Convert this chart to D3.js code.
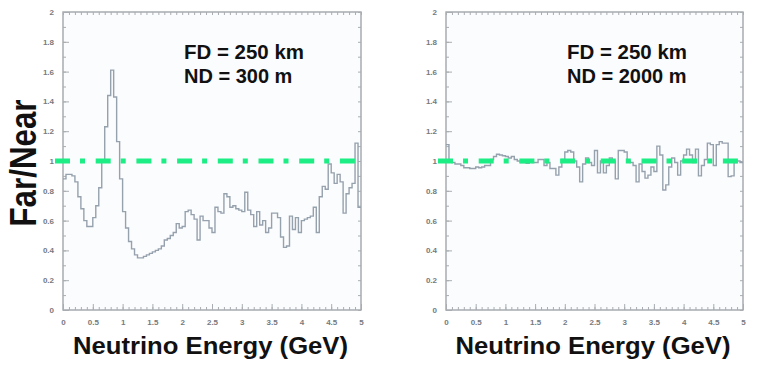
<!DOCTYPE html>
<html>
<head>
<meta charset="utf-8">
<script src="https://cdn.jsdelivr.net/npm/d3@7"></script>
<style>
  body { margin: 0; background: #fff; }
  svg { display: block; font-family: "Liberation Sans", Arial, Helvetica, sans-serif; }
  .frame { fill: #fbfcfd; stroke: #a2a6aa; stroke-width: 1.4; }
  .axis .domain { display: none; }
  .axis line { stroke: #a9adb1; stroke-width: 1; }
  .axis text { fill: #767a7e; font-size: 8px; font-weight: bold; font-family: "Liberation Sans", Arial, sans-serif; }
  .hist { fill: none; stroke: #96a1ae; stroke-width: 1.4; }
  .ref-line { stroke: #1ced84; stroke-width: 5; stroke-dasharray: 15 10 5 10.7; }
  .title { font-weight: bold; fill: #111; }
</style>
</head>
<body>
<svg id="chart" width="761" height="366"></svg>
<script>
// far/near ratio per 0.05 GeV bin, 0..5 GeV
const BIN_WIDTH = 0.05
const ratioND300 = [
  0.88, 0.91, 0.91, 0.90, 0.86, 0.76, 0.68, 0.60, 0.56, 0.56,
  0.62, 0.70, 0.82, 1.00, 1.23, 1.44, 1.61, 1.43, 1.13, 0.88,
  0.66, 0.55, 0.46, 0.41, 0.37, 0.35, 0.35, 0.36, 0.37, 0.38,
  0.39, 0.40, 0.41, 0.43, 0.47, 0.48, 0.50, 0.52, 0.58, 0.55,
  0.56, 0.66, 0.67, 0.64, 0.61, 0.47, 0.63, 0.60, 0.60, 0.55,
  0.52, 0.69, 0.66, 0.65, 0.78, 0.76, 0.69, 0.70, 0.68, 0.67,
  0.66, 0.79, 0.67, 0.64, 0.56, 0.66, 0.57, 0.60, 0.52, 0.55,
  0.65, 0.65, 0.62, 0.49, 0.42, 0.43, 0.63, 0.54, 0.62, 0.52,
  0.60, 0.61, 0.62, 0.63, 0.69, 0.52, 0.76, 0.83, 0.81, 0.98,
  0.92, 0.85, 0.91, 0.86, 0.65, 0.78, 0.82, 0.85, 1.12, 0.69
]
const ratioND2000 = [
  1.11, 1.00, 0.99, 0.98, 0.98, 0.97, 0.955, 0.955, 0.95, 0.95,
  0.96, 0.955, 0.96, 0.97, 0.97, 1.01, 1.03, 1.045, 1.04, 1.035,
  1.03, 1.02, 1.03, 1.01, 1.00, 0.99, 0.99, 0.985, 1.00, 0.99,
  0.99, 1.01, 1.01, 0.97, 0.99, 0.95, 0.95, 0.905, 0.96, 1.01,
  1.06, 1.07, 1.06, 1.00, 0.96, 0.86, 0.98, 1.02, 0.99, 0.97,
  1.07, 0.92, 1.00, 0.92, 0.97, 1.02, 1.00, 0.88, 1.07, 1.07,
  1.06, 1.00, 0.99, 0.97, 0.86, 0.98, 0.93, 0.885, 0.905, 0.96,
  0.93, 1.10, 1.04, 0.805, 0.84, 0.96, 1.02, 0.99, 0.905, 1.00,
  1.04, 1.08, 1.04, 0.99, 1.08, 0.90, 0.97, 1.01, 1.12, 1.11,
  0.97, 1.11, 1.13, 1.12, 1.12, 0.895, 0.90, 0.99, 1.00, 0.99
]
const REF_RATIO = 1

const yTicks = [0, 0.2, 0.4, 0.6, 0.8, 1, 1.2, 1.4, 1.6, 1.8, 2]
const yTickLabels = ['0', '0.2', '0.4', '0.6', '0.8', '1', '1.2', '1.4', '1.6', '1.8', '2']
const xTicks = [0, 0.5, 1, 1.5, 2, 2.5, 3, 3.5, 4, 4.5, 5]
const xTickLabels = ['0', '0.5', '1', '1.5', '2', '2.5', '3', '3.5', '4', '4.5', '5']

const notesLeft = ['FD = 250 km', 'ND = 300 m']
const notesRight = ['FD = 250 km', 'ND = 2000 m']
const xTitle = 'Neutrino Energy (GeV)'
const yTitle = 'Far/Near'

const $svg = d3.select('#chart')

const TOP = 12, BOTTOM = 310
const PANELS = [
  { left: 63, right: 361, values: ratioND300, notes: notesLeft },
  { left: 446, right: 743, values: ratioND2000, notes: notesRight }
]

function drawPanel(p){
  const xScale = d3.scaleLinear().domain([0, 5]).range([p.left, p.right])
  const yScale = d3.scaleLinear().domain([0, 2]).range([BOTTOM, TOP])
  const $g = $svg.append('g').attr('class', 'panel')

  $g.append('rect')
    .attr('class', 'frame')
    .attr('x', p.left).attr('y', TOP)
    .attr('width', p.right - p.left).attr('height', BOTTOM - TOP)

  // minor ticks, all four sides, pointing in
  const minorY = yScale.ticks(20), minorX = xScale.ticks(50)
  $g.append('g').attr('class', 'axis')
    .attr('transform', `translate(${p.left},0)`)
    .call(d3.axisLeft(yScale).tickValues(minorY).tickSize(-3).tickFormat(''))
  $g.append('g').attr('class', 'axis')
    .attr('transform', `translate(${p.right},0)`)
    .call(d3.axisRight(yScale).tickValues(minorY).tickSize(-3).tickFormat(''))
  $g.append('g').attr('class', 'axis')
    .attr('transform', `translate(0,${BOTTOM})`)
    .call(d3.axisBottom(xScale).tickValues(minorX).tickSize(-3).tickFormat(''))
  $g.append('g').attr('class', 'axis')
    .attr('transform', `translate(0,${TOP})`)
    .call(d3.axisTop(xScale).tickValues(minorX).tickSize(-3).tickFormat(''))

  // major ticks + labels
  $g.append('g').attr('class', 'axis')
    .attr('transform', `translate(${p.left},0)`)
    .call(d3.axisLeft(yScale).tickValues(yTicks)
      .tickFormat((d, i) => yTickLabels[i]).tickSizeInner(-6).tickSizeOuter(0).tickPadding(9))
  $g.append('g').attr('class', 'axis')
    .attr('transform', `translate(0,${BOTTOM})`)
    .call(d3.axisBottom(xScale).tickValues(xTicks)
      .tickFormat((d, i) => xTickLabels[i]).tickSizeInner(-6).tickSizeOuter(0).tickPadding(9))

  // histogram as a step line
  const pts = p.values.map((v, i) => [i * BIN_WIDTH, v])
  pts.push([p.values.length * BIN_WIDTH, p.values[p.values.length - 1]])
  const line = d3.line()
    .x(d => xScale(d[0]))
    .y(d => yScale(d[1]))
    .curve(d3.curveStepAfter)
  $g.append('path').attr('class', 'hist').datum(pts).attr('d', line)

  // reference ratio = 1
  $g.append('line')
    .attr('class', 'ref-line')
    .attr('x1', xScale(0) - 8).attr('x2', xScale(5))
    .attr('y1', yScale(REF_RATIO)).attr('y2', yScale(REF_RATIO))

  $g.selectAll('.note')
    .data(p.notes)
    .join('text')
      .attr('class', 'note title')
      .attr('x', p.left + 121)
      .attr('y', (d, i) => 59 + i * 24)
      .attr('font-size', 20)
      .attr('textLength', (d, i) => i === 0 ? 120 : null)
      .attr('lengthAdjust', 'spacingAndGlyphs')
      .text(d => d)

  $g.append('text')
    .attr('class', 'title')
    .attr('x', (p.left + p.right) / 2 - 1.5)
    .attr('y', 354)
    .attr('text-anchor', 'middle')
    .attr('font-size', 24)
    .attr('textLength', 275)
    .attr('lengthAdjust', 'spacingAndGlyphs')
    .text(xTitle)
}

PANELS.forEach(drawPanel)

$svg.append('text')
  .attr('class', 'title')
  .attr('transform', 'translate(36,163) rotate(-90)')
  .attr('text-anchor', 'middle')
  .attr('font-size', 37)
  .attr('textLength', 127)
  .attr('lengthAdjust', 'spacingAndGlyphs')
  .text(yTitle)
</script>
</body>
</html>
